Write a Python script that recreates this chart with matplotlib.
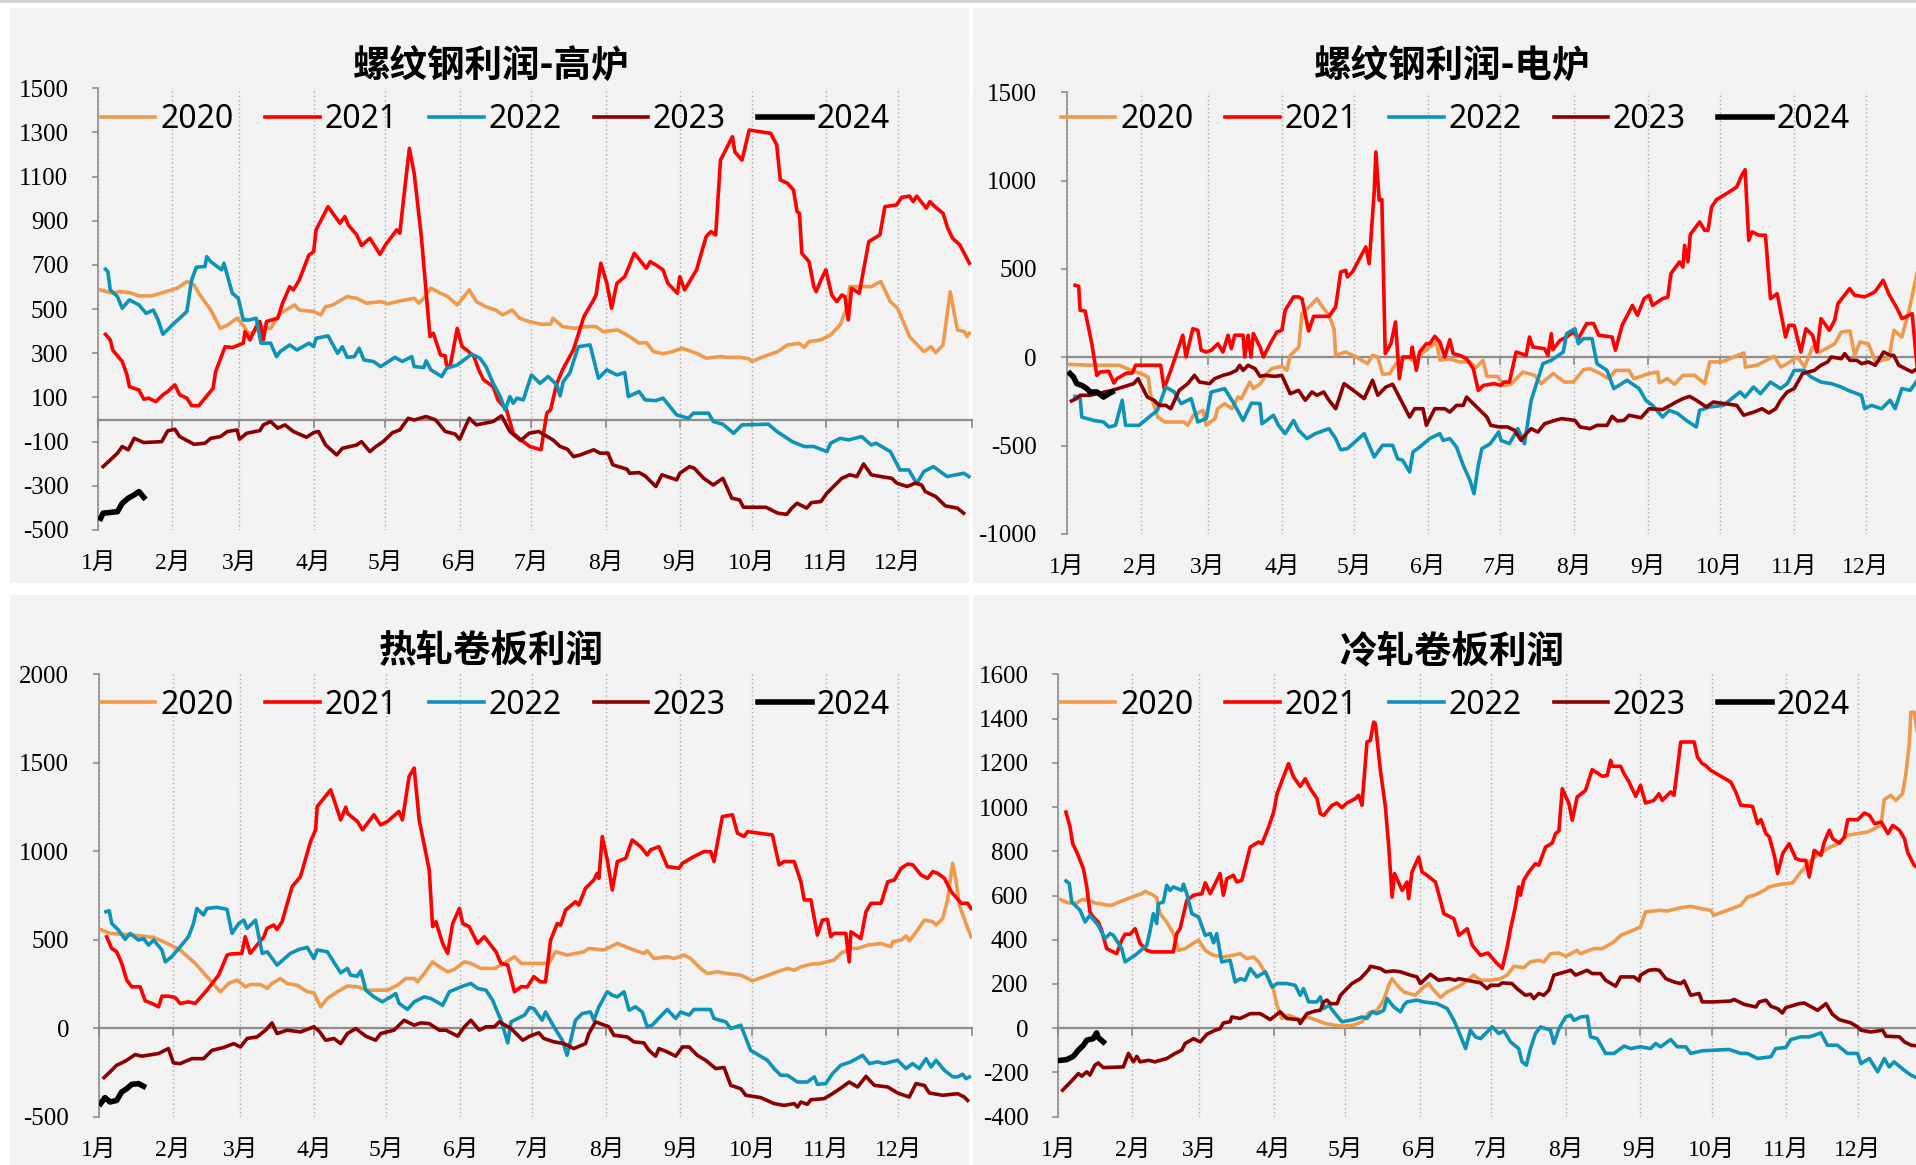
import matplotlib.pyplot as plt
from matplotlib.patches import Rectangle

plt.rcParams['font.family'] = ['Noto Sans CJK SC', 'DejaVu Sans']

# x axis: day of year (0 = 1月1日)
month_start = [0, 31, 59, 90, 120, 151, 181, 212, 243, 273, 304, 334]
month_labels = ['1月', '2月', '3月', '4月', '5月', '6月', '7月', '8月', '9月', '10月', '11月', '12月']
years = ['2020', '2021', '2022', '2023', '2024']
colors = ['#EE9A4D', '#FF0000', '#0E93B7', '#8B0000', '#000000']
widths = [2.6, 2.6, 2.6, 2.6, 4.0]

# ---- 螺纹钢利润-高炉 (day, 元/吨) ----
rebar_bf_2020 = [(1, 587), (6, 572), (9, 580), (13, 575), (17, 560), (22, 560), (27, 575), (33, 595), (37, 625), (40, 610),
                 (42, 572), (47, 496), (51, 413), (54, 428), (58, 459), (61, 421), (63, 383), (68, 421), (72, 413), (76, 481),
                 (82, 519), (84, 496), (90, 489), (93, 474), (95, 511), (98, 519), (104, 557), (108, 549), (112, 527), (118, 534),
                 (121, 524), (126, 537), (132, 549), (134, 527), (136, 549), (139, 595), (143, 572), (146, 557), (150, 519), (155, 587),
                 (158, 534), (162, 511), (166, 496), (169, 474), (173, 496), (176, 459), (180, 444), (185, 432), (189, 432), (190, 459),
                 (194, 421), (199, 413), (204, 421), (208, 421), (211, 398), (217, 406), (222, 376), (226, 346), (229, 349), (232, 308),
                 (236, 298), (240, 308), (244, 323), (250, 300), (254, 278), (260, 285), (264, 281), (268, 282), (272, 275), (273, 263),
                 (278, 285), (284, 308), (288, 338), (293, 345), (295, 327), (297, 353), (302, 361), (306, 383), (310, 429), (313, 512),
                 (314, 602), (317, 602), (323, 602), (327, 625), (331, 534), (334, 504), (339, 376), (343, 330), (345, 308), (348, 330),
                 (350, 303), (353, 338), (356, 579), (359, 406), (362, 398), (363, 376), (364, 391)]
rebar_bf_2021 = [(3, 386), (5, 361), (6, 315), (10, 263), (12, 202), (13, 149), (17, 134), (19, 92), (21, 97), (24, 81),
                 (27, 112), (29, 127), (32, 157), (34, 112), (37, 97), (39, 63), (42, 63), (48, 142), (49, 217), (53, 330),
                 (56, 326), (60.6, 346), (61.3, 398), (63.4, 361), (66, 421), (67.5, 444), (69, 361), (70.3, 444), (75, 459), (77, 527),
                 (80, 602), (81.5, 587), (84, 632), (88, 745), (90, 760), (91, 859), (96, 964), (101, 889), (103, 919), (104.5, 881),
                 (108, 836), (110, 788), (113.5, 821), (117.7, 748), (120, 791), (124.7, 859), (126, 844), (128, 1040), (130, 1228), (132, 1115),
                 (135, 828), (138.6, 376), (140, 391), (143, 293), (145, 288), (145.5, 247), (147, 240), (150, 413), (152, 330), (154, 315),
                 (157, 285), (159, 225), (161, 180), (165, 149), (167, 89), (170.6, 44), (173.4, -62), (177.6, -100), (180.4, -122), (185, -137),
                 (187.4, 29), (189, 44), (191.6, 164), (194, 225), (198.5, 315), (203, 468), (207, 542), (208, 564), (210, 708), (212.5, 617),
                 (214.5, 504), (216.7, 617), (220, 647), (224, 753), (229, 685), (230.6, 715), (233, 700), (236, 678), (238, 617), (242, 572),
                 (243, 647), (245, 587), (250, 678), (254, 828), (256, 851), (258, 836), (260, 1175), (265, 1281), (266, 1212), (269, 1175),
                 (272, 1311), (281, 1296), (283.5, 1243), (285, 1085), (288, 1070), (290.5, 1040), (292, 942), (293, 934), (294, 753), (297, 715),
                 (299, 602), (300, 579), (302, 632), (304, 678), (306.5, 564), (308.6, 534), (310.7, 564), (312, 557), (313.4, 451), (314.8, 594),
                 (318, 572), (322, 806), (326.6, 836), (328.7, 964), (333.6, 972), (335.7, 1006), (339, 1012), (340.5, 987), (342, 1012), (346, 957),
                 (347.5, 987), (349.6, 964), (353, 934), (355, 866), (357, 821), (360, 791), (364, 708)]
rebar_bf_2022 = [(3, 681), (4, 670), (5, 587), (8, 557), (10, 504), (13, 542), (17, 519), (20, 481), (23, 496), (25, 451),
                 (27, 386), (31, 429), (37, 489), (39, 632), (41, 690), (44.6, 693), (45.3, 738), (47, 715), (51.5, 678), (52.5, 708),
                 (56, 572), (58.5, 549), (60.6, 451), (63, 451), (66, 459), (68, 346), (72, 346), (74.5, 285), (76, 308), (80, 338),
                 (83, 315), (88, 346), (90, 330), (91, 368), (96, 379), (100, 300), (102, 330), (104, 282), (107, 285), (109, 323),
                 (111, 270), (115, 263), (118, 240), (124, 282), (127, 263), (131, 285), (132, 240), (136, 235), (137, 266), (139, 225),
                 (143.5, 195), (145.5, 232), (150, 247), (156, 296), (159.5, 278), (162, 240), (165, 164), (168, 104), (170, 44), (172, 104),
                 (173.4, 74), (175, 97), (177.6, 89), (181, 202), (184.6, 164), (188, 195), (191.6, 157), (193, 107), (194.3, 172), (197, 210),
                 (200.6, 330), (205.5, 338), (209, 187), (212.5, 225), (216.7, 202), (220, 213), (221.5, 104), (226, 127), (228.5, 89), (233, 86),
                 (236, 97), (241.7, 21), (246.6, 6), (248.7, 29), (255, 29), (257, -9), (261, -21), (265.5, -62), (269, -24), (280, -21),
                 (283.6, -54), (290, -100), (295, -122), (299, -122), (304.5, -145), (306, -107), (310, -85), (313.6, -92), (319, -77), (323, -115),
                 (325, -107), (331, -145), (335, -228), (338.7, -228), (342, -289), (345, -235), (349, -213), (354.7, -258), (361.7, -243), (363.8, -258)]
rebar_bf_2023 = [(2, -213), (5, -183), (8, -152), (10, -122), (12.5, -137), (15, -85), (19, -104), (26.5, -100), (29, -51), (32, -44),
                 (34, -77), (40, -112), (44.6, -107), (47, -85), (51, -77), (54, -54), (58, -47), (59, -89), (62, -62), (67.5, -50),
                 (69, -24), (72, -9), (75, -39), (78, -24), (81.5, -54), (87, -80), (90, -59), (92, -54), (95, -115), (99.6, -160),
                 (102, -130), (108, -115), (110, -100), (113.5, -145), (116, -122), (119, -100), (123, -59), (126, -47), (129.5, 6), (132, -2),
                 (137, 14), (141, -2), (145, -54), (149, -65), (151, -89), (155, 6), (158, -24), (165, -9), (168.5, 17), (172, -54),
                 (176.5, -95), (180, -62), (184, -54), (190, -92), (193, -122), (196, -134), (198.6, -168), (201.4, -160), (207, -137), (209.7, -152),
                 (213, -152), (215, -205), (221, -225), (222, -243), (226, -240), (228.5, -255), (233, -303), (235.5, -250), (241.7, -273), (243, -243),
                 (247, -213), (249, -220), (253, -266), (257, -296), (261, -266), (264.7, -356), (268, -364), (269.6, -397), (279, -397), (284, -424),
                 (287.7, -429), (289.8, -401), (292, -379), (296, -401), (298, -376), (302, -371), (304.4, -334), (310.7, -266), (314, -250), (317, -258),
                 (319.8, -201), (323, -250), (327, -258), (331.6, -266), (333.7, -288), (338, -303), (341.4, -288), (344, -296), (345.6, -326), (350, -349),
                 (354, -391), (359, -401), (361.6, -424)]
rebar_bf_2024 = [(1, -447), (2, -424), (8, -417), (10, -379), (12.5, -356), (15, -341), (17, -326), (19, -352)]

# ---- 螺纹钢利润-电炉 ----
rebar_eaf_2020 = [(1, -40), (10, -45), (22, -45), (27, -74), (31, -92), (34, -111), (35, -206), (38, -338), (41, -366), (49, -366),
                  (50.6, -385), (53, -328), (57, -300), (58.3, -385), (62, -347), (63, -291), (66, -262), (69, -291), (71.6, -225), (73, -234),
                  (76.5, -140), (78, -177), (81, -149), (83.6, -92), (85.7, -64), (90, -51), (92, -74), (93.4, 11), (97, 58), (98.3, 247),
                  (102, 294), (104.6, 332), (106.7, 289), (109.6, 238), (111.7, 162), (112.4, 11), (116.6, 30), (121, 2), (125.7, -36), (127.8, 11),
                  (130, 2), (132, -96), (135, -92), (137.6, -36), (142, 2), (146, -26), (147.5, 11), (151.7, 58), (154.5, 87), (156, -17),
                  (160, -8), (164, -26), (168.5, -26), (171, -58), (174, -17), (175.6, -108), (180, -108), (182.8, -159), (185.6, -153), (190.6, -83),
                  (195.5, -102), (198.3, -149), (203.3, -92), (208, -140), (211.7, -140), (216, -70), (218.7, -64), (223, -92), (226.5, -121), (229.3, -74),
                  (235, -74), (237, -121), (243.4, -92), (247, -83), (247.6, -145), (251, -121), (254, -153), (257.5, -102), (262.4, -102), (266.6, -149),
                  (268.7, -26), (273.7, -26), (283, 25), (283.6, -55), (288.5, -45), (295.6, 6), (298.4, -55), (301, -36), (305.4, 2), (308.3, -55),
                  (311.7, 58), (314.7, 30), (321, 77), (323.7, 143), (327.3, 149), (329.3, 11), (331.5, 87), (335, 77), (338, -26), (343.5, -8),
                  (345.7, 153), (349, 115), (352, 266), (356.2, 530), (357.6, 342), (360, 330), (364, 300)]
rebar_eaf_2021 = [(3.5, 408), (5, 402), (5.6, 266), (7.7, 262), (10.5, 77), (12.6, -102), (14, -83), (17.6, -79), (19.7, -145), (21, -121),
                  (25, -89), (27.4, -89), (28.8, -45), (39.3, -45), (40.7, -177), (43.5, -74), (48.5, 125), (49.9, 2), (52.7, 162), (54.8, 153),
                  (56.2, 40), (58.3, 30), (60.4, 40), (63.2, 77), (65.3, 30), (67.4, 125), (68.8, 49), (70.2, 125), (73.7, 125), (74.4, 2),
                  (75.8, 125), (77, 2), (78, 134), (80.8, 58), (82.2, 2), (85, 77), (87.8, 143), (89.9, 153), (91.3, 266), (94.8, 342),
                  (96.9, 342), (98.3, 332), (101.1, 149), (103.2, 232), (109.6, 232), (112.4, 285), (114.5, 483), (116.6, 492), (117.3, 455), (119.4, 483),
                  (125, 625), (126.4, 530), (128.5, 936), (129.2, 1162), (130.6, 889), (131.7, 893), (133.1, 21), (135.5, 77), (137.4, 200), (139, -121),
                  (140.4, 2), (143.9, 2), (144.4, 58), (146.1, -74), (147.5, 30), (150.3, 77), (151.7, 77), (153.8, 119), (155.9, 87), (158, 2),
                  (160.1, 100), (161.5, 21), (164.3, 11), (167.1, -8), (169.9, -64), (172, -187), (174.2, -159), (178.6, -149), (181.4, -159), (182.8, -140),
                  (185, -140), (187.8, 30), (192, 11), (193.4, 115), (194.8, 58), (199.7, 49), (201.1, 11), (202.5, 134), (203.2, 43), (206.1, 96),
                  (208.9, 115), (211.7, 143), (213.8, 106), (217.3, 191), (220.2, 191), (222.3, 125), (227.9, 115), (229.3, 40), (232.1, 181), (236.4, 294),
                  (238.5, 238), (241.3, 332), (243.4, 351), (244.8, 294), (249, 332), (251.2, 341), (252.5, 474), (256.1, 540), (257.5, 511), (258.2, 634),
                  (259.6, 540), (260.6, 696), (264.5, 766), (266.6, 719), (268, 719), (269.5, 851), (271.6, 893), (275.8, 927), (280, 964), (282.1, 1030),
                  (283.5, 1062), (285, 662), (286.4, 710), (289.2, 691), (292, 691), (294.1, 332), (296.9, 360), (300.4, 115), (301.8, 181), (304, 181),
                  (306.8, 30), (308.9, 162), (311.7, 125), (313.5, 30), (315.2, 219), (318.7, 153), (320.9, 209), (322.3, 304), (327.2, 389), (329.3, 351),
                  (333.5, 342), (337.7, 370), (341.2, 436), (343.5, 360), (347, 276), (349.1, 219), (353.3, 247), (355.5, -74), (357.6, -130), (360, -140),
                  (364, -150)]
rebar_eaf_2022 = [(3.5, -221), (5.6, -225), (6.3, -338), (11.2, -357), (15.4, -366), (17.6, -394), (20.4, -385), (23.2, -243), (24.6, -385), (30.2, -385),
                  (37.9, -300), (41.4, -168), (44.9, -196), (47.8, -262), (52, -234), (54.8, -366), (58.3, -347), (60.4, -196), (63.2, -187), (66, -177),
                  (69.5, -253), (73.7, -357), (77.2, -259), (80.8, -262), (81.6, -376), (86.4, -328), (88.5, -385), (91.3, -432), (94.8, -357), (96.9, -413),
                  (100.4, -460), (103.9, -432), (109.6, -404), (112.4, -460), (114.5, -523), (117.3, -517), (124.3, -432), (128.5, -564), (132, -498), (136.2, -498),
                  (138.3, -574), (140.4, -583), (143.3, -649), (144.7, -536), (147.5, -508), (151.7, -460), (155.9, -432), (157.3, -470), (160.1, -460), (162.9, -508),
                  (165.7, -611), (168.5, -696), (170.2, -772), (172, -611), (173.5, -517), (177, -489), (180.5, -423), (181.5, -470), (185, -489), (188.5, -404),
                  (191.3, -489), (194.1, -243), (199, -36), (202.5, -17), (207.5, 30), (208.9, 134), (212.4, 162), (213.8, 77), (215.9, 106), (219.5, 106),
                  (221.6, -36), (225.8, -74), (228.6, -177), (234.2, -130), (239.2, -177), (242, -243), (244.8, -272), (249, -338), (251.8, -300), (255.4, -319),
                  (258.9, -357), (263.1, -394), (264.5, -300), (268.7, -281), (274.4, -272), (281.4, -196), (283.5, -225), (287, -168), (289.9, -206), (294.1, -140),
                  (298.3, -177), (301.1, -149), (304, -74), (308.2, -74), (311, -111), (315.2, -140), (319.5, -149), (323.7, -168), (326.5, -187), (332.1, -215),
                  (333.5, -291), (336.3, -272), (340.5, -291), (344.1, -243), (346.2, -291), (349, -177), (352.5, -187), (355.5, -130), (359, -125), (364, -120)]
rebar_eaf_2023 = [(2, -247), (4, -234), (5.6, -215), (9.8, -215), (19, -187), (28, -149), (29.8, -121), (33.7, -225), (36.5, -243), (38.6, -272),
                  (41.4, -272), (43.5, -291), (47, -187), (50.6, -149), (53.4, -102), (55.5, -140), (59.7, -149), (61.8, -121), (65.3, -102), (68.1, -92),
                  (70.9, -74), (72.3, -45), (73.7, -74), (75.8, -45), (78.7, -64), (80.8, -108), (82.9, -102), (87.1, -108), (89.9, -102), (93.4, -206),
                  (96.9, -187), (99.7, -243), (102.5, -196), (104.6, -215), (107.4, -196), (109.6, -243), (112.4, -291), (115.9, -149), (119.4, -183), (124.3, -234),
                  (127.8, -130), (130, -215), (133.4, -168), (136.2, -153), (139, -225), (143.3, -338), (145.4, -291), (148.9, -291), (150.3, -385), (153.8, -291),
                  (158, -291), (160.1, -310), (162.9, -272), (165.7, -272), (167.1, -225), (171.3, -281), (175.6, -338), (177.2, -385), (180.7, -394), (184.2, -394),
                  (187.1, -413), (189.9, -470), (192, -432), (194.1, -404), (196.9, -423), (199.7, -376), (204, -357), (206.8, -347), (212.4, -357), (214.5, -394),
                  (218.7, -404), (221.6, -385), (225.8, -385), (227.9, -334), (230.1, -360), (232.9, -357), (235, -328), (240, -342), (243.4, -291), (249, -296),
                  (254.7, -253), (257.5, -234), (260.3, -221), (263.1, -243), (267.3, -281), (270.2, -253), (280, -272), (282.9, -328), (287.1, -310), (290.6, -291),
                  (293.4, -315), (296.3, -291), (298.3, -243), (301.1, -196), (304, -177), (307.5, -92), (312.4, -74), (315.2, -45), (318, -26), (319.5, 2),
                  (323.7, -8), (325.1, 21), (327.3, -17), (330.1, -17), (332.2, -36), (335, -26), (337.9, -45), (341.4, 30), (344.2, 11), (345.6, 11),
                  (347.7, -45), (351.9, -74), (353.3, -83), (354.7, -70), (359, -75), (364, -80)]
rebar_eaf_2024 = [(1.4, -92), (2.8, -111), (4.2, -149), (6.3, -159), (8.4, -177), (9.8, -196), (12.6, -196), (15.4, -225), (17.6, -206), (19, -196)]

# ---- 热轧卷板利润 ----
hrc_2020 = [(0.7, 558), (4.6, 536), (8.8, 532), (14.4, 526), (22.8, 513), (27, 489), (33.9, 442), (40.2, 366), (45.1, 291), (50.7, 206),
            (54.2, 253), (57.7, 272), (61.2, 234), (63.3, 247), (67.5, 247), (70.3, 225), (72.3, 253), (75.8, 281), (78.6, 253), (82.8, 243),
            (87, 206), (89.8, 200), (92.6, 121), (95.4, 168), (99.6, 206), (103.8, 238), (108, 234), (112.2, 215), (116.3, 215), (120.5, 215),
            (124.7, 243), (128.2, 281), (131.7, 281), (133.1, 262), (135.9, 309), (139.4, 375), (142.2, 347), (145.7, 319), (148.5, 332), (152.7, 375),
            (155.4, 366), (159.6, 338), (165.2, 338), (168, 357), (173.6, 404), (176.4, 366), (180.3, 366), (184.5, 366), (188, 366), (190.8, 432),
            (195.6, 413), (202.6, 432), (204.7, 451), (211, 442), (216.6, 479), (223.5, 442), (227.7, 423), (229.1, 438), (231.9, 394), (237.5, 404),
            (240.3, 394), (244.5, 413), (247.2, 394), (251.4, 338), (254.2, 309), (258.4, 319), (262.6, 309), (268.2, 300), (273, 268), (277.9, 291),
            (283.5, 319), (287.7, 338), (290.5, 328), (293.3, 347), (297.5, 362), (301.6, 366), (307.2, 385), (310, 423), (314.2, 451), (317, 451),
            (321.2, 470), (326.8, 479), (331, 460), (331.7, 489), (335.2, 498), (337.3, 521), (338.6, 494), (342.1, 555), (344.9, 611), (348.4, 602),
            (349.8, 583), (352.6, 621), (354.6, 725), (356.7, 932), (358.1, 838), (359.5, 696), (362.3, 592), (364.4, 517)]
hrc_2021 = [(3.2, 517), (5.3, 451), (7.4, 432), (9.5, 366), (11.6, 272), (13.7, 234), (17.2, 234), (19.3, 155), (22.1, 140), (24.9, 121),
            (26.3, 181), (29.1, 181), (31.8, 174), (33.9, 140), (37.4, 149), (40.2, 140), (45.1, 215), (50, 300), (53.5, 413), (54.9, 419),
            (59.7, 423), (61.1, 517), (63.2, 423), (68.9, 517), (70.2, 564), (73, 583), (74.4, 558), (76.5, 602), (80.7, 800), (84.2, 857),
            (88.4, 1055), (90.5, 1121), (91.2, 1253), (96.8, 1347), (98.2, 1291), (101, 1177), (103.1, 1249), (103.8, 1215), (108, 1168), (110.1, 1121),
            (112.2, 1158), (114.9, 1206), (117.7, 1149), (120.5, 1168), (125.3, 1225), (126.8, 1177), (129.6, 1423), (131.7, 1470), (133.8, 1177), (138, 894),
            (139.4, 574), (140.8, 602), (143.6, 479), (145.7, 423), (147.8, 592), (150.6, 677), (152, 592), (154.7, 574), (158.2, 479), (161, 517),
            (165.9, 432), (168, 366), (170.8, 357), (173.6, 206), (176.4, 234), (179, 234), (181.7, 291), (184.5, 262), (186.6, 262), (188.7, 498),
            (191.5, 592), (192.9, 583), (195, 668), (199.1, 715), (200.5, 696), (203.3, 791), (206.8, 838), (208.2, 875), (208.9, 847), (210.3, 1083),
            (212.4, 951), (214.5, 781), (216.6, 942), (220.1, 960), (222.8, 1064), (226.3, 1026), (229.1, 979), (230.5, 1008), (234, 1026), (237.5, 913),
            (242.4, 904), (243.8, 932), (248.6, 970), (252.8, 998), (255.6, 998), (257, 942), (260.5, 1196), (264.7, 1206), (266.8, 1102), (269.6, 1083),
            (271, 1111), (281.4, 1092), (284.2, 923), (286.3, 942), (290.5, 942), (293.3, 828), (294.7, 725), (297.5, 725), (300.2, 526), (302.3, 611),
            (304.4, 615), (305.8, 517), (307.2, 536), (312.1, 536), (313.5, 375), (314.2, 545), (318.4, 507), (320.5, 658), (322.6, 706), (326.8, 706),
            (329.6, 828), (332.4, 838), (335.2, 904), (338, 928), (340.1, 923), (343.5, 866), (346.3, 847), (348.4, 885), (350.5, 875), (353.3, 847),
            (356.1, 772), (360.3, 706), (363, 706), (364.4, 677)]
hrc_2022 = [(2.9, 658), (4.3, 664), (5.3, 592), (8.1, 555), (10.9, 502), (13, 536), (16.5, 498), (18.6, 507), (20.7, 470), (22.8, 498),
            (26.3, 442), (27.7, 375), (30.4, 404), (33.9, 460), (37.4, 517), (39.5, 592), (40.9, 677), (43.7, 640), (45.1, 677), (49.3, 683),
            (53.5, 672), (55.6, 536), (58.4, 592), (60.5, 611), (61.9, 564), (65.4, 611), (68.2, 423), (70.3, 432), (74.4, 357), (80, 423),
            (83.5, 445), (87, 457), (89.8, 394), (91.2, 442), (95.4, 432), (101, 313), (103.8, 338), (105.1, 300), (107.9, 294), (109.4, 324),
            (111.5, 215), (114.9, 177), (118.4, 149), (121.9, 177), (124, 196), (125.4, 140), (128.9, 106), (131.7, 149), (135.9, 177), (138.7, 168),
            (143.6, 130), (146.4, 206), (151.3, 234), (155.4, 253), (158.2, 225), (161.7, 215), (164.5, 158), (165.9, 111), (168, 45), (170.8, -83),
            (172.2, 36), (175, 55), (177.8, 74), (179.9, 117), (181.7, 111), (185.2, 45), (186.6, 92), (190.1, 8), (193.6, -68), (195.6, -153),
            (199.1, 45), (201.9, 83), (205.4, 92), (206.8, 45), (208.9, 121), (212.4, 206), (214.5, 187), (216.6, 177), (219.4, 206), (221.5, 102),
            (224.2, 121), (227, 92), (229.1, 8), (231.2, 17), (234.7, 68), (237.5, 106), (241, 55), (243.1, 92), (246.6, 74), (248.6, 106),
            (255.5, 106), (257, 55), (261.9, 36), (264, -2), (268.2, 17), (272.3, -125), (279.3, -181), (282.1, -228), (284.9, -266), (287.7, -266),
            (291.9, -304), (296, -304), (298.9, -275), (300.2, -317), (303.7, -313), (306.5, -257), (310, -209), (314.2, -190), (319.1, -153), (321.9, -200),
            (325.3, -190), (328.1, -200), (333.7, -181), (337.2, -228), (340, -200), (342.8, -228), (345.6, -172), (347.7, -219), (349.8, -181), (353.3, -238),
            (356.8, -275), (358.8, -275), (360.9, -260), (362.3, -285), (363.7, -275)]
hrc_2023 = [(2.1, -279), (4.6, -247), (7.4, -209), (9.5, -196), (11.6, -181), (15.1, -149), (17.9, -158), (24.9, -143), (29, -115), (31.1, -196),
            (33.9, -200), (38.8, -172), (43.7, -172), (47.2, -125), (52.1, -109), (56.3, -87), (59.1, -106), (61.9, -58), (66.1, -49), (69.6, -11),
            (72.3, 30), (74.4, -30), (78.6, -11), (84.2, -21), (89.8, 8), (91.9, -15), (94.7, -68), (98.2, -58), (101, -87), (103.8, -30),
            (107.3, -2), (111.5, -45), (115.6, -68), (117.7, -30), (123.3, -11), (127.5, 45), (131.7, 17), (134.5, 30), (138, 26), (142.2, -11),
            (145, -11), (149.9, -45), (152.7, 8), (155.4, 45), (158.9, -11), (161.7, 8), (165.2, 8), (167.3, 36), (172.2, -2), (177.1, -68),
            (180, -45), (183.8, -26), (185.9, -58), (190.1, -77), (194.3, -87), (198.4, -115), (203.3, -87), (204.7, -30), (207.5, 36), (213.1, 8),
            (215.2, -40), (220.7, -49), (223.5, -77), (227.7, -83), (229.8, -125), (232.6, -158), (234, -115), (237.5, -134), (241, -158), (243.8, -106),
            (246.6, -106), (250, -153), (253.5, -181), (257.7, -228), (261.2, -222), (264, -323), (268.2, -342), (270.3, -379), (276.5, -392), (282.1, -426),
            (286.3, -436), (290.5, -426), (291.9, -445), (293.3, -417), (296, -430), (297.5, -404), (303, -398), (306.5, -370), (310.7, -332), (313.5, -304),
            (317, -332), (320.5, -272), (324, -323), (329.6, -332), (333.7, -366), (338.6, -389), (341.4, -313), (344.9, -323), (347, -366), (352.6, -379),
            (358.8, -370), (361.6, -389), (363, -408)]
hrc_2024 = [(0.7, -426), (2.5, -392), (4.6, -417), (7.4, -408), (9.5, -360), (11.6, -342), (13.7, -317), (16.5, -313), (18.6, -328)]

# ---- 冷轧卷板利润 ----
crc_2020 = [(1, 581), (4.2, 566), (7.7, 566), (9.8, 581), (13.2, 578), (15.3, 566), (20.9, 556), (22.3, 556), (27.2, 578), (32.8, 601),
            (34.9, 608), (36.3, 619), (39.7, 601), (41.1, 590), (42.5, 518), (45.3, 480), (48.1, 428), (50.2, 352), (53, 360), (55.1, 375),
            (58.6, 398), (61.4, 352), (63.5, 337), (64.9, 330), (69, 322), (73.2, 330), (76, 337), (78.7, 315), (81.6, 322), (83.7, 300),
            (87.2, 240), (90, 172), (91.4, 104), (93.4, 44), (96.2, 59), (98.3, 51), (100.4, 36), (103.9, 51), (108.1, 36), (111.6, 21),
            (115.1, 14), (119.2, 9), (123.4, 14), (126.9, 29), (129.7, 69), (133.2, 81), (136, 127), (138.1, 194), (139.5, 224), (141.6, 194),
            (144.4, 164), (149.2, 149), (152, 179), (154.8, 202), (156.9, 172), (159.7, 139), (162.5, 164), (165.3, 179), (168.1, 194), (170.9, 217),
            (173.6, 240), (176.4, 217), (180.6, 217), (184.8, 224), (187.6, 240), (190.4, 280), (194.5, 274), (197.3, 300), (200.8, 307), (202.9, 300),
            (205.7, 337), (209.2, 340), (212, 325), (216.8, 352), (218.2, 337), (223.8, 360), (227.3, 360), (232.2, 390), (235, 420), (238.5, 435),
            (243.3, 458), (245.4, 526), (251.7, 533), (254.5, 530), (260.1, 545), (264.3, 551), (268.4, 541), (272.6, 533), (274, 511), (279.6, 533),
            (285.2, 556), (288, 593), (290.8, 601), (295, 623), (297, 639), (301.9, 651), (306.8, 657), (310.3, 706), (314.5, 759), (317.2, 782),
            (321.4, 812), (326.3, 837), (329.8, 872), (334, 880), (338.2, 887), (343.8, 917), (345.1, 1033), (347.9, 1053), (350, 1030), (352.8, 1060),
            (354.2, 1151), (355.6, 1286), (356.3, 1429), (357.7, 1429), (358.8, 1346), (361, 1300), (364, 1250)]
crc_2021 = [(3.2, 977), (4.9, 910), (6, 834), (7.7, 797), (10.5, 721), (11.9, 639), (13.2, 526), (14.6, 503), (16.7, 480), (18.1, 443),
            (20.2, 360), (23, 345), (24.4, 337), (26.5, 398), (27.9, 425), (30, 425), (32.1, 450), (34.2, 383), (37, 352), (39.1, 345),
            (48.1, 345), (49.5, 428), (50.9, 450), (53.7, 578), (56.5, 601), (60, 608), (61.4, 657), (63.5, 608), (67.6, 699), (69, 601),
            (70.4, 676), (73.2, 691), (74.6, 661), (76.7, 669), (78.8, 759), (80.2, 819), (83.7, 842), (85.1, 834), (87.9, 910), (90, 977),
            (91.4, 1060), (96.2, 1196), (98.3, 1136), (101.1, 1093), (103.2, 1128), (105.3, 1083), (108.1, 1038), (109.5, 970), (110.9, 962), (114.4, 1008),
            (116.5, 1018), (118.5, 997), (120.6, 1018), (124.1, 1038), (125.5, 1053), (126.9, 1008), (129, 1294), (130.4, 1301), (131.8, 1384), (132.5, 1377),
            (134.6, 1166), (136.7, 1000), (138.1, 819), (139.5, 593), (140.5, 699), (143.7, 623), (145.7, 661), (146.4, 586), (147.8, 706), (150.6, 774),
            (152, 706), (154.1, 691), (157.6, 661), (159.7, 578), (161.1, 518), (165.3, 495), (167.4, 420), (170.9, 450), (173, 375), (176.4, 330),
            (179.6, 340), (182.7, 300), (185.5, 270), (187.6, 367), (189, 450), (191, 548), (192.4, 639), (193.1, 601), (194.5, 669), (196.6, 706),
            (199.4, 744), (200.8, 737), (203.6, 819), (206.4, 837), (207.8, 880), (209.2, 892), (210.6, 1083), (213.4, 1015), (214.8, 940), (216.8, 1045),
            (220.3, 1075), (223.1, 1169), (227.3, 1139), (229.4, 1143), (230.8, 1211), (231.5, 1184), (235, 1184), (236.4, 1151), (238.5, 1113), (241.3, 1048),
            (243.3, 1098), (245.4, 1018), (248.9, 1030), (251, 1060), (252.4, 1030), (255.9, 1068), (257.3, 1053), (260.1, 1294), (265.7, 1294), (267.1, 1226),
            (269.1, 1196), (270.5, 1188), (272.6, 1166), (281, 1113), (283.1, 1068), (285.2, 1008), (290.1, 1003), (292.2, 925), (293.6, 943), (295.7, 880),
            (297.1, 865), (299.2, 782), (300.6, 699), (302.7, 789), (305.4, 834), (308.2, 767), (310.3, 759), (312.4, 759), (313.8, 684), (315.9, 804),
            (318.7, 782), (320.1, 842), (322.2, 895), (323.6, 857), (326.4, 837), (328.5, 865), (329.9, 943), (334.1, 943), (336.9, 973), (339, 962),
            (341.1, 925), (343.9, 932), (346.7, 880), (348.7, 917), (351.5, 895), (353.6, 857), (355, 793), (357.7, 736), (360, 720), (364, 700)]
crc_2022 = [(3.2, 666), (4.6, 654), (5.6, 571), (9.1, 533), (11.2, 480), (13.2, 511), (16.7, 465), (19.5, 405), (21.6, 428), (23, 420),
            (26.5, 360), (27.9, 300), (32.1, 330), (37, 375), (38.4, 443), (39.7, 518), (41.1, 473), (41.8, 563), (43.9, 571), (45.3, 646),
            (46.7, 623), (48.1, 639), (51.6, 623), (52.3, 651), (53.7, 608), (55.8, 518), (58.6, 503), (61.4, 420), (63.5, 428), (64.9, 386),
            (66.2, 428), (68.3, 300), (71.8, 307), (73.9, 209), (76, 224), (78.1, 217), (80.2, 270), (83, 232), (86.5, 255), (89.3, 187),
            (91.4, 202), (95.5, 202), (99, 194), (101.1, 149), (102.5, 179), (104.6, 119), (108.1, 119), (109.5, 142), (110.9, 89), (113, 104),
            (115.1, 74), (118.5, 29), (123.4, 39), (126.9, 51), (129, 44), (131.1, 74), (133.2, 66), (136, 81), (137.4, 134), (140.2, 96),
            (143, 74), (144.4, 104), (145.7, 119), (149.9, 127), (152.7, 119), (158.3, 111), (162.5, 89), (165.3, 36), (167.4, -17), (170.2, -92),
            (172.2, -9), (174.3, -39), (176.4, -47), (179.2, -17), (181.3, 6), (184.1, -24), (186.2, -12), (189, -62), (192.4, -92), (193.8, -152),
            (195.6, -167), (197.3, -92), (199.4, -24), (201.5, 6), (205.7, -9), (207.1, -69), (209.2, -2), (212, 51), (214.1, 59), (215.5, 36),
            (218.3, 51), (221.1, 54), (222.4, -39), (225.2, -47), (228.7, -114), (232.2, -114), (236.4, -81), (239.2, -92), (243.3, -84), (247.5, -92),
            (249.6, -69), (251.7, -84), (255.9, -51), (258.7, -84), (262.2, -84), (264.3, -114), (269.1, -102), (280.3, -96), (285.2, -114), (288, -114),
            (292.2, -137), (297.8, -129), (299.8, -92), (304, -87), (306.1, -51), (310.3, -39), (313.8, -39), (315.9, -32), (318.7, -21), (321.4, -77),
            (325.6, -77), (329.8, -114), (334, -114), (335.4, -160), (338.9, -137), (342.4, -197), (345.2, -137), (347.2, -175), (349.3, -152), (353.5, -190),
            (356.3, -212), (359, -225), (364, -240)]
crc_2023 = [(1.8, -280), (5.6, -238), (8.4, -205), (9.8, -217), (11.9, -197), (13.2, -212), (15.3, -167), (16.7, -157), (18.8, -178), (27.2, -175),
            (29.3, -114), (31.4, -152), (32.8, -127), (34.2, -152), (37.7, -145), (40.4, -152), (45.3, -137), (48.8, -114), (51.6, -99), (53, -69),
            (56.5, -47), (59.3, -62), (62.1, -27), (65.6, -9), (67.6, -2), (69, 24), (71.8, 29), (72.5, 51), (76, 44), (80.2, 66),
            (84.4, 66), (88.6, 39), (92.7, 74), (95.5, 44), (100.4, 39), (101.1, 21), (103.9, 66), (107.4, 78), (109.5, 81), (110.9, 119),
            (112.3, 127), (113.7, 111), (116.5, 111), (117.9, 149), (122.7, 202), (126.2, 224), (129.7, 265), (130.4, 280), (134.6, 270), (136.7, 255),
            (140.2, 259), (143, 255), (147.1, 240), (149.9, 232), (151.3, 202), (155.5, 244), (158.9, 217), (163.2, 224), (165.9, 217), (167.4, 224),
            (172.2, 214), (176.4, 205), (179.2, 179), (180.6, 194), (184.1, 194), (185.5, 205), (189.6, 202), (191.7, 179), (195.2, 149), (197.3, 154),
            (198.7, 134), (200.8, 157), (202.9, 149), (205, 172), (207.1, 240), (212, 255), (214.1, 262), (216.2, 240), (221, 262), (223.1, 247),
            (226.6, 247), (228.7, 217), (232.9, 190), (235, 232), (240.6, 232), (242.7, 214), (243.3, 240), (246.8, 262), (249, 265), (251.1, 262),
            (253.9, 224), (257.3, 209), (260.1, 202), (261.5, 214), (264.3, 149), (267.8, 157), (269.1, 119), (274, 119), (281, 123), (282.4, 130),
            (286.6, 108), (291.5, 96), (292.9, 119), (295.7, 127), (297.8, 99), (300.5, 89), (302.6, 69), (304, 93), (309.6, 111), (311.7, 114),
            (317.3, 81), (320.8, 111), (323.5, 63), (326.3, 39), (331.2, 24), (334, 6), (335.4, -9), (339.6, -17), (344.5, -9), (345.9, -36),
            (351.5, -39), (353.6, -62), (356.4, -77), (359, -80), (364, -85)]
crc_2024 = [(1, -145), (3.5, -142), (6.3, -127), (8.4, -99), (10.5, -77), (11.9, -54), (14.6, -47), (16, -21), (16.7, -42), (18.8, -62)]

W, H = 1916, 1165
fig = plt.figure(figsize=(W / 100, H / 100), dpi=100)
fig.patch.set_facecolor('white')


def px_box(x0, y0, x1, y1):
    return [x0 / W, 1 - y1 / H, (x1 - x0) / W, (y1 - y0) / H]


# panel backgrounds
for x0, y0, x1, y1 in [(10, 8, 969, 583), (973, 8, 1916, 583), (10, 595, 969, 1165), (973, 595, 1916, 1165)]:
    b = px_box(x0, y0, x1, y1)
    fig.add_artist(Rectangle((b[0], b[1]), b[2], b[3], transform=fig.transFigure, facecolor='#F2F2F2', edgecolor='none', zorder=0))
b = px_box(0, 0, W, 3)
fig.add_artist(Rectangle((b[0], b[1]), b[2], b[3], transform=fig.transFigure, facecolor='#D4D4D4', edgecolor='none', zorder=0))

panels = [
    dict(title='螺纹钢利润-高炉', tpos=(491, 65), box=(98.3, 88.3, 530), ylim=(-500, 1500),
         yticks=list(range(-500, 1501, 200)), leg=(101, 120),
         series=[rebar_bf_2020, rebar_bf_2021, rebar_bf_2022, rebar_bf_2023, rebar_bf_2024]),
    dict(title='螺纹钢利润-电炉', tpos=(1452, 65), box=(1066.7, 92.3, 534), ylim=(-1000, 1500),
         yticks=list(range(-1000, 1501, 500)), leg=(1061, 120),
         series=[rebar_eaf_2020, rebar_eaf_2021, rebar_eaf_2022, rebar_eaf_2023, rebar_eaf_2024]),
    dict(title='热轧卷板利润', tpos=(491, 651), box=(99, 674.3, 1116.7), ylim=(-500, 2000),
         yticks=list(range(-500, 2001, 500)), leg=(101, 705),
         series=[hrc_2020, hrc_2021, hrc_2022, hrc_2023, hrc_2024]),
    dict(title='冷轧卷板利润', tpos=(1452, 651), box=(1058.3, 674.3, 1116.7), ylim=(-400, 1600),
         yticks=list(range(-400, 1601, 200)), leg=(1061, 705),
         series=[crc_2020, crc_2021, crc_2022, crc_2023, crc_2024]),
]

day_px = 2.393  # pixels per day

for p in panels:
    left, top, bottom = p['box']
    ax = fig.add_axes(px_box(left, top, left + 365 * day_px, bottom))
    ax.patch.set_visible(False)

    for yr, data, c, lw in zip(years, p['series'], colors, widths):
        days = [d for d, v in data]
        vals = [v for d, v in data]
        ax.plot(days, vals, color=c, lw=lw, label=yr, solid_joinstyle='round', zorder=3)

    ax.set_xlim(0, 365)
    ax.set_ylim(*p['ylim'])

    # spines: left axis, horizontal axis crossing at 0
    ax.spines['top'].set_visible(False)
    ax.spines['right'].set_visible(False)
    ax.spines['left'].set_color('#868686')
    ax.spines['left'].set_linewidth(1.1)
    ax.spines['bottom'].set_position(('data', 0))
    ax.spines['bottom'].set_color('#8C8C8C')
    ax.spines['bottom'].set_linewidth(1.6)
    ax.spines['bottom'].set_zorder(1)

    ax.set_xticks(month_start + [365])
    ax.tick_params(axis='x', direction='out', length=6, width=1.2, color='#8C8C8C', labelbottom=False)
    ax.grid(axis='x', color='#A8A8A8', linestyle=(0, (1, 2)), linewidth=1.0)
    ax.set_axisbelow(True)

    ax.set_yticks(p['yticks'])
    ax.set_yticklabels([str(t) for t in p['yticks']], fontfamily='Liberation Serif', fontsize=18)
    ax.tick_params(axis='y', direction='out', length=4.5, width=1.1, color='#868686', pad=17)

    sec = ax.secondary_xaxis('bottom')
    sec.set_xticks(month_start, labels=month_labels)
    sec.tick_params(length=0, pad=16.5)
    for s in sec.spines.values():
        s.set_visible(False)
    for lab in sec.get_xticklabels():
        lab.set_fontfamily(['Liberation Serif', 'Noto Sans CJK SC'])
        lab.set_fontsize(17)

    lx, ly = p['leg']
    ax.legend(loc='center left', bbox_to_anchor=(lx / W, 1 - ly / H), bbox_transform=fig.transFigure,
              ncol=5, frameon=False, prop={'family': 'Noto Sans', 'size': 23},
              handlelength=1.7, handletextpad=0.15, columnspacing=1.0, borderpad=0, borderaxespad=0)

    tx, ty = p['tpos']
    fig.text(tx / W, 1 - ty / H, p['title'], ha='center', va='center', fontsize=27, fontweight='bold',
             family=['Noto Sans CJK SC', 'DejaVu Sans'])

fig.savefig('out.png', dpi=100)
